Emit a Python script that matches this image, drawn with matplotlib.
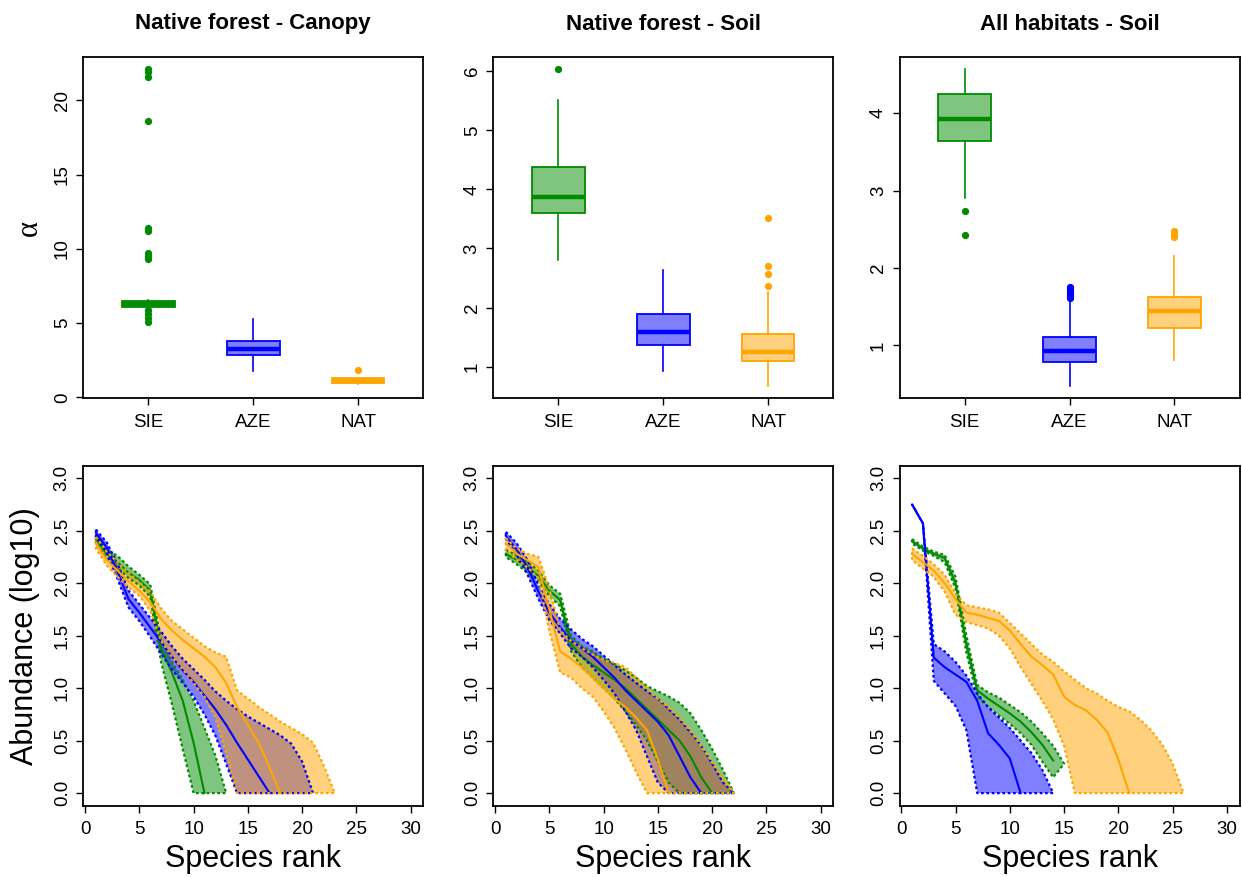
import numpy as np
import matplotlib
matplotlib.use('Agg')
import matplotlib.pyplot as plt

plt.rcParams['font.family'] = ['Liberation Sans', 'DejaVu Sans']

# ---------------- data ----------------
groups = ['SIE', 'AZE', 'NAT']
col_SIE = '#008B00'
col_AZE = '#0000FF'
col_NAT = '#FFA500'
titles = ['Native forest - Canopy', 'Native forest - Soil', 'All habitats - Soil']

# Boxplot statistics (alpha of each group)
canopy_q1 = [6.10, 2.85, 0.95]
canopy_med = [6.30, 3.28, 1.10]
canopy_q3 = [6.50, 3.78, 1.28]
canopy_wlo = [6.05, 1.80, 0.90]
canopy_whi = [6.55, 5.28, 1.30]
canopy_out_SIE = [22.1, 21.9, 21.6, 18.6, 11.4, 11.2, 9.7, 9.5, 9.3, 5.9, 5.6, 5.35, 5.1]
canopy_out_AZE = []
canopy_out_NAT = [1.84]

nfsoil_q1 = [3.60, 1.37, 1.10]
nfsoil_med = [3.87, 1.59, 1.25]
nfsoil_q3 = [4.38, 1.89, 1.55]
nfsoil_wlo = [2.80, 0.93, 0.68]
nfsoil_whi = [5.51, 2.63, 2.26]
nfsoil_out_SIE = [6.03]
nfsoil_out_AZE = []
nfsoil_out_NAT = [3.51, 2.70, 2.56, 2.37]

allsoil_q1 = [3.64, 0.78, 1.22]
allsoil_med = [3.93, 0.93, 1.45]
allsoil_q3 = [4.25, 1.11, 1.62]
allsoil_wlo = [2.90, 0.48, 0.81]
allsoil_whi = [4.57, 1.59, 2.16]
allsoil_out_SIE = [2.73, 2.42]
allsoil_out_AZE = [1.76, 1.73, 1.70, 1.67, 1.64, 1.61]
allsoil_out_NAT = [2.48, 2.44, 2.40]

# Rank-abundance curves (log10 abundance by species rank 1..n): mean, lower, upper
canopy_SIE_mean = [2.42, 2.28, 2.20, 2.10, 2.03, 1.93, 1.38, 1.15, 0.88, 0.48, 0.0]
canopy_SIE_lo = [2.38, 2.24, 2.15, 2.05, 1.98, 1.87, 1.25, 0.85, 0.42, 0.0]
canopy_SIE_hi = [2.46, 2.32, 2.26, 2.16, 2.08, 1.99, 1.46, 1.25, 1.08, 0.88, 0.62, 0.36, 0.0]
canopy_AZE_mean = [2.48, 2.34, 2.11, 1.85, 1.72, 1.58, 1.44, 1.30, 1.17, 1.06, 0.93, 0.80,
                   0.65, 0.48, 0.32, 0.16, 0.0]
canopy_AZE_lo = [2.45, 2.29, 2.04, 1.77, 1.64, 1.49, 1.33, 1.18, 1.05, 0.92, 0.75, 0.55, 0.28, 0.0]
canopy_AZE_hi = [2.51, 2.39, 2.18, 1.93, 1.80, 1.67, 1.54, 1.40, 1.28, 1.18, 1.08, 0.97, 0.88,
                 0.80, 0.73, 0.67, 0.61, 0.55, 0.47, 0.30, 0.0]
canopy_NAT_mean = [2.38, 2.22, 2.12, 2.02, 1.93, 1.82, 1.66, 1.55, 1.46, 1.38, 1.30, 1.20, 1.05,
                   0.82, 0.65, 0.48, 0.24, 0.0]
canopy_NAT_lo = [2.33, 2.17, 2.06, 1.96, 1.88, 1.74, 1.45, 1.30, 1.18, 1.05, 0.92, 0.72, 0.38, 0.0]
canopy_NAT_hi = [2.44, 2.30, 2.20, 2.10, 2.01, 1.92, 1.76, 1.64, 1.56, 1.48, 1.40, 1.34, 1.30,
                 0.98, 0.90, 0.82, 0.75, 0.68, 0.62, 0.56, 0.48, 0.26, 0.0]

nfsoil_SIE_mean = [2.28, 2.22, 2.15, 2.07, 1.93, 1.84, 1.42, 1.30, 1.22, 1.15, 1.08, 1.00, 0.90,
                   0.80, 0.70, 0.60, 0.50, 0.35, 0.15, 0.0]
nfsoil_SIE_lo = [2.25, 2.18, 2.10, 2.02, 1.88, 1.78, 1.35, 1.20, 1.10, 1.00, 0.90, 0.78, 0.65,
                 0.50, 0.30, 0.10, 0.0]
nfsoil_SIE_hi = [2.32, 2.26, 2.20, 2.12, 1.98, 1.90, 1.50, 1.40, 1.35, 1.28, 1.23, 1.17, 1.10,
                 1.02, 0.97, 0.92, 0.86, 0.76, 0.60, 0.42, 0.22, 0.0]
nfsoil_AZE_mean = [2.45, 2.32, 2.15, 1.92, 1.72, 1.58, 1.45, 1.38, 1.30, 1.20, 1.10, 0.98, 0.88,
                   0.78, 0.68, 0.55, 0.35, 0.15, 0.0]
nfsoil_AZE_lo = [2.42, 2.27, 2.08, 1.85, 1.65, 1.52, 1.38, 1.30, 1.20, 1.08, 0.95, 0.78, 0.60,
                 0.35, 0.10, 0.0]
nfsoil_AZE_hi = [2.49, 2.38, 2.22, 1.98, 1.80, 1.66, 1.56, 1.47, 1.40, 1.31, 1.22, 1.13, 1.05,
                 0.97, 0.90, 0.80, 0.70, 0.58, 0.45, 0.28, 0.10, 0.0]
nfsoil_NAT_mean = [2.38, 2.28, 2.22, 2.15, 1.75, 1.35, 1.28, 1.20, 1.10, 1.00, 0.90, 0.82, 0.72,
                   0.60, 0.32, 0.0]
nfsoil_NAT_lo = [2.32, 2.22, 2.15, 2.05, 1.55, 1.15, 1.10, 1.00, 0.92, 0.78, 0.62, 0.42, 0.20, 0.0]
nfsoil_NAT_hi = [2.43, 2.33, 2.28, 2.25, 1.95, 1.55, 1.45, 1.38, 1.32, 1.27, 1.24, 1.20, 1.10,
                 1.00, 0.90, 0.82, 0.72, 0.60, 0.45, 0.30, 0.15, 0.0]

allsoil_SIE_mean = [2.40, 2.33, 2.28, 2.24, 2.00, 1.42, 0.98, 0.90, 0.83, 0.76, 0.68, 0.58, 0.46, 0.31]
allsoil_SIE_lo = [2.38, 2.31, 2.26, 2.20, 1.95, 1.34, 0.92, 0.82, 0.74, 0.66, 0.57, 0.46, 0.30, 0.15]
allsoil_SIE_hi = [2.42, 2.35, 2.30, 2.27, 2.06, 1.50, 1.03, 0.96, 0.91, 0.84, 0.77, 0.68, 0.57,
                  0.45, 0.28]
allsoil_AZE_mean = [2.75, 2.57, 1.29, 1.20, 1.13, 1.06, 0.88, 0.57, 0.46, 0.33, 0.0]
allsoil_AZE_lo = [2.75, 2.57, 1.07, 0.95, 0.83, 0.60, 0.0]
allsoil_AZE_hi = [2.75, 2.57, 1.42, 1.35, 1.25, 1.12, 0.95, 0.82, 0.72, 0.62, 0.50, 0.38, 0.22, 0.0]
allsoil_NAT_mean = [2.28, 2.20, 2.12, 2.00, 1.85, 1.72, 1.70, 1.67, 1.64, 1.55, 1.42, 1.30, 1.22,
                    1.13, 0.92, 0.84, 0.79, 0.70, 0.58, 0.32, 0.0]
allsoil_NAT_lo = [2.22, 2.14, 2.06, 1.92, 1.70, 1.63, 1.60, 1.57, 1.50, 1.38, 1.20, 1.04, 0.88,
                  0.70, 0.45, 0.0]
allsoil_NAT_hi = [2.33, 2.26, 2.18, 2.08, 1.90, 1.79, 1.77, 1.75, 1.72, 1.62, 1.52, 1.42, 1.32,
                  1.25, 1.16, 1.08, 1.00, 0.95, 0.88, 0.82, 0.78, 0.70, 0.60, 0.47, 0.28, 0.0]

# ---------------- layout ----------------
W, H = 1242, 877
fig = plt.figure(figsize=(W / 100, H / 100), dpi=100)
col_left = [83.3, 493.3, 899.5]
col_w = 340.0
top_y0, top_y1 = 56.7, 398.3
bot_y0, bot_y1 = 465.7, 805.7

colors = [col_SIE, col_AZE, col_NAT]
TICK_FS = 13.5


def add_ax(xl, y0, y1):
    return fig.add_axes([xl / W, 1 - y1 / H, col_w / W, (y1 - y0) / H])


def style_ax(ax):
    for s in ax.spines.values():
        s.set_linewidth(1.3)
        s.set_color('black')
    ax.tick_params(axis='both', direction='out', length=5, width=1.0,
                   labelsize=TICK_FS, top=False, right=False)
    ax.tick_params(axis='x', pad=6)
    ax.tick_params(axis='y', pad=4)
    plt.setp(ax.get_yticklabels(), rotation=90, va='center')


box_sets = [
    (canopy_q1, canopy_med, canopy_q3, canopy_wlo, canopy_whi,
     [canopy_out_SIE, canopy_out_AZE, canopy_out_NAT], (-0.07, 22.95), [0, 5, 10, 15, 20]),
    (nfsoil_q1, nfsoil_med, nfsoil_q3, nfsoil_wlo, nfsoil_whi,
     [nfsoil_out_SIE, nfsoil_out_AZE, nfsoil_out_NAT], (0.465, 6.245), [1, 2, 3, 4, 5, 6]),
    (allsoil_q1, allsoil_med, allsoil_q3, allsoil_wlo, allsoil_whi,
     [allsoil_out_SIE, allsoil_out_AZE, allsoil_out_NAT], (0.316, 4.73), [1, 2, 3, 4]),
]

for i, (q1, med, q3, wlo, whi, outs, ylim, yt) in enumerate(box_sets):
    ax = add_ax(col_left[i], top_y0, top_y1)
    for j in range(3):
        st = [dict(q1=q1[j], med=med[j], q3=q3[j], whislo=wlo[j], whishi=whi[j],
                   fliers=outs[j], label=groups[j])]
        c = colors[j]
        ax.bxp(st, positions=[j + 1], widths=0.5, patch_artist=True, showcaps=False,
               boxprops=dict(facecolor=matplotlib.colors.to_rgba(c, 0.5), edgecolor=c, linewidth=1.3),
               medianprops=dict(color=c, linewidth=3.2, solid_capstyle='butt'),
               whiskerprops=dict(color=c, linewidth=1.2),
               flierprops=dict(marker='o', markerfacecolor=c, markeredgecolor=c, markersize=4.2))
    ax.set_xlim(0.38, 3.62)
    ax.set_ylim(*ylim)
    ax.set_xticks([1, 2, 3])
    ax.set_xticklabels(groups)
    ax.set_yticks(yt)
    ax.set_yticklabels([str(v) for v in yt])
    style_ax(ax)
    cx = (col_left[i] + col_w / 2) / W
    fig.text(cx, 1 - 24 / H, titles[i], ha='center', va='center', fontsize=16, fontweight='bold')

curve_sets = [
    [(canopy_SIE_mean, canopy_SIE_lo, canopy_SIE_hi),
     (canopy_AZE_mean, canopy_AZE_lo, canopy_AZE_hi),
     (canopy_NAT_mean, canopy_NAT_lo, canopy_NAT_hi)],
    [(nfsoil_SIE_mean, nfsoil_SIE_lo, nfsoil_SIE_hi),
     (nfsoil_AZE_mean, nfsoil_AZE_lo, nfsoil_AZE_hi),
     (nfsoil_NAT_mean, nfsoil_NAT_lo, nfsoil_NAT_hi)],
    [(allsoil_SIE_mean, allsoil_SIE_lo, allsoil_SIE_hi),
     (allsoil_AZE_mean, allsoil_AZE_lo, allsoil_AZE_hi),
     (allsoil_NAT_mean, allsoil_NAT_lo, allsoil_NAT_hi)],
]

for i, sets in enumerate(curve_sets):
    ax = add_ax(col_left[i], bot_y0, bot_y1)
    for j, (mn, lo, hi) in enumerate(sets):
        c = colors[j]
        r_hi = np.arange(1, len(hi) + 1)
        r_lo = np.arange(1, len(lo) + 1)
        xs = np.concatenate([r_hi, r_lo[::-1], r_hi[:1]])
        ys = np.concatenate([hi, lo[::-1], hi[:1]])
        ax.fill(xs, ys, facecolor=c, alpha=0.5, edgecolor='none')
        ax.plot(xs, ys, color=c, lw=1.6, linestyle=(0, (1.2, 1.2)))
        ax.plot(np.arange(1, len(mn) + 1), mn, color=c, lw=1.5)
    ax.set_xlim(1 - 1.16, 30 + 1.16)
    ax.set_ylim(-0.12, 3.12)
    ax.set_xticks([0, 5, 10, 15, 20, 25, 30])
    ax.set_yticks([0.0, 0.5, 1.0, 1.5, 2.0, 2.5, 3.0])
    ax.set_yticklabels(['0.0', '0.5', '1.0', '1.5', '2.0', '2.5', '3.0'])
    style_ax(ax)
    cx = (col_left[i] + col_w / 2) / W
    fig.text(cx, 1 - 859 / H, 'Species rank', ha='center', va='center', fontsize=22)

fig.text(25 / W, 1 - 636 / H, 'Abundance (log10)', rotation=90, ha='center', va='center', fontsize=22)
fig.text(29 / W, 1 - 228 / H, 'α', rotation=90, ha='center', va='center', fontsize=22,
         family=['Liberation Serif', 'DejaVu Serif'])

fig.savefig('out.png', dpi=100)
